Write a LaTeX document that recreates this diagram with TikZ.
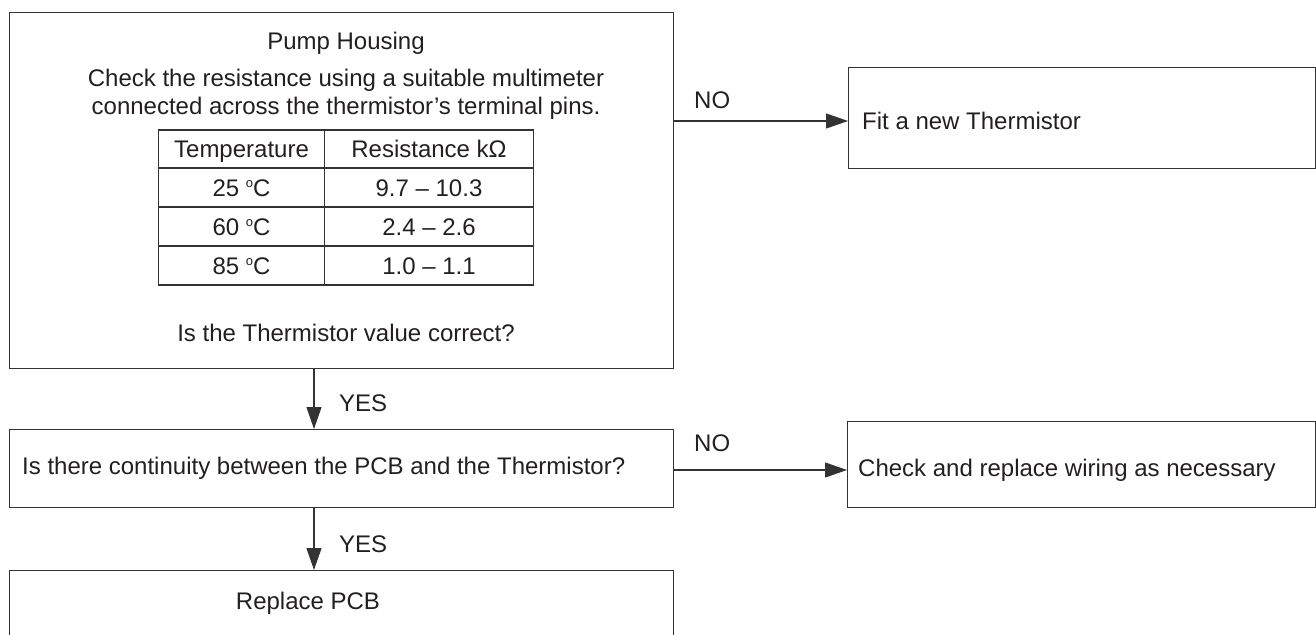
\documentclass[tikz,border=0pt]{standalone}
\usepackage{fontspec}
\setmainfont{Liberation Sans}
\usetikzlibrary{arrows.meta}
\definecolor{linec}{HTML}{333333}
\definecolor{textc}{HTML}{231F20}
\newcommand{\degsym}{\raisebox{9pt}{\fontsize{13}{13}\selectfont o}}
\begin{document}
\begin{tikzpicture}[x=1pt,y=-1pt,
  box/.style={draw=linec, line width=1.2pt, rectangle, inner sep=0pt, anchor=north west},
  txt/.style={font=\fontsize{24}{28}\selectfont, text=textc, inner sep=0pt},
  cell/.style={txt, anchor=base},
  lbl/.style={txt, anchor=west},
  grid/.style={draw=linec, line width=1.6pt},
  arr/.style={draw=linec, line width=1.2pt, -{Triangle[length=22pt,width=15pt]}}]
\useasboundingbox (0,0) rectangle (1316,634);
\clip (0,0) rectangle (1316,634);
% boxes
\node[box, minimum width=664pt, minimum height=356pt] (main) at (9,12) {};
\node[box, minimum width=467pt, minimum height=101pt] (fit) at (848,67) {};
\node[box, minimum width=664pt, minimum height=78pt] (q2) at (9,429) {};
\node[box, minimum width=468pt, minimum height=86pt] (wire) at (847,421) {};
\node[box, minimum width=664pt, minimum height=100pt] (rep) at (9,570) {};
% main box texts
\node[txt] (title) at (346,43) {Pump Housing};
\node[txt, align=center] (check) at (346,94) {Check the resistance using a suitable multimeter\\connected across the thermistor’s terminal pins.};
\node[txt] (question) at (346,333) {Is the Thermistor value correct?};
% table
\draw[grid] (158.5,130) rectangle (533.5,285);
\draw[grid] (158.5,168) -- (533.5,168);
\draw[grid] (158.5,207) -- (533.5,207);
\draw[grid] (158.5,246) -- (533.5,246);
\draw[grid] (324.5,130) -- (324.5,285);
\node[cell] (h1) at (241.5,157) {Temperature};
\node[cell] (h2) at (429,157) {Resistance kΩ};
\node[cell] (t1) at (241.5,196) {25 \degsym C};
\node[cell] (r1) at (429,196) {9.7 – 10.3};
\node[cell] (t2) at (241.5,235) {60 \degsym C};
\node[cell] (r2) at (429,235) {2.4 – 2.6};
\node[cell] (t3) at (241.5,274) {85 \degsym C};
\node[cell] (r3) at (429,274) {1.0 – 1.1};
% other texts
\node[lbl] (fittxt) at (862,121) {Fit a new Thermistor};
\node[lbl] (q2txt) at (22,468) {Is there continuity between the PCB and the Thermistor?};
\node[lbl] (wiretxt) at (858,470) {Check and replace wiring as necessary};
\node[txt] (reptxt) at (308,603) {Replace PCB};
% labels
\node[lbl] (no1) at (694,100) {NO};
\node[lbl] (no2) at (694,443) {NO};
\node[lbl] (yes1) at (339,403) {YES};
\node[lbl] (yes2) at (339,544) {YES};
% connectors
\coordinate (ax) at (314,0);
\draw[arr] (main.south -| ax) -- (q2.north -| ax);
\draw[arr] (q2.south -| ax) -- (rep.north -| ax);
\draw[arr] (main.east |- fittxt) -- (fit.west |- fittxt);
\draw[arr] (q2.east |- wiretxt) -- (wire.west |- wiretxt);
\end{tikzpicture}
\end{document}
